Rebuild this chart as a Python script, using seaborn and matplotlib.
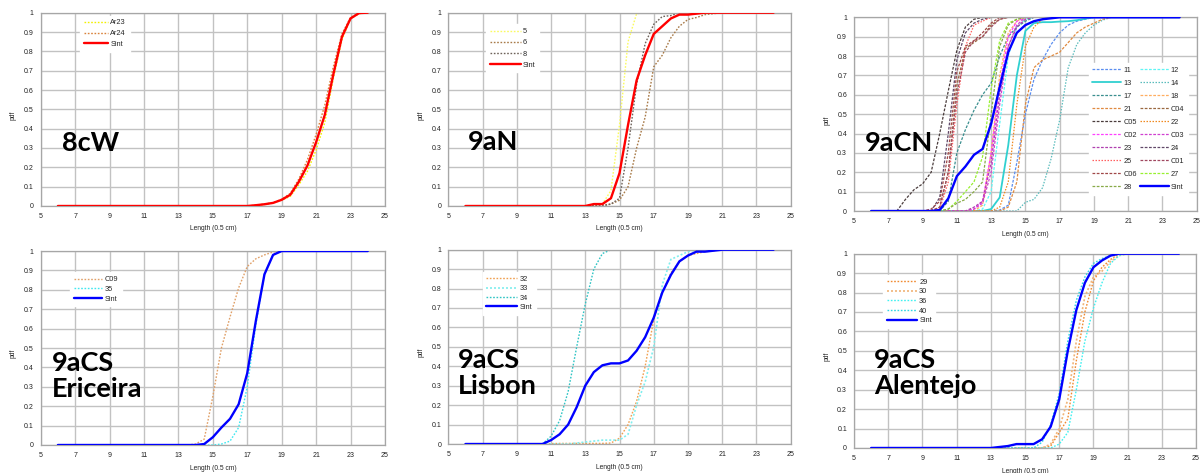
import numpy as np
import matplotlib
matplotlib.use("Agg")
import matplotlib.pyplot as plt
from matplotlib.ticker import FuncFormatter, MultipleLocator
import seaborn as sns

sns.set_style("white")
plt.rcParams["font.family"] = ["Liberation Sans", "DejaVu Sans"]

# Length classes (0.5 cm bins) on the x axis
LENGTHS = np.arange(6.0, 24.01, 0.5)

# Cumulative length distributions: (first length listed, values from there on).
# Classes below the first listed length sit at 0, classes after the last listed value at 1.
W8C = {
    "Ar23": (17.0, [0.0, 0.003, 0.008, 0.015, 0.03, 0.05, 0.11, 0.18, 0.29, 0.43, 0.66, 0.86, 0.97, 0.995, 1.0]),
    "Ar24": (17.0, [0.0, 0.004, 0.01, 0.017, 0.035, 0.065, 0.14, 0.24, 0.37, 0.52, 0.72, 0.89, 0.975, 1.0]),
    "Sint": (17.0, [0.0, 0.004, 0.009, 0.016, 0.032, 0.058, 0.126, 0.21, 0.33, 0.47, 0.68, 0.875, 0.97, 0.998, 1.0]),
}

N9A = {
    "5": (13.0, [0.0, 0.005, 0.01, 0.08, 0.42, 0.85, 0.995, 1.0]),
    "6": (13.0, [0.0, 0.003, 0.005, 0.01, 0.03, 0.1, 0.3, 0.46, 0.72, 0.78, 0.87, 0.93, 0.965, 0.975, 0.99, 0.995, 1.0]),
    "8": (13.0, [0.0, 0.0, 0.0, 0.01, 0.04, 0.3, 0.63, 0.84, 0.94, 0.98, 0.985, 1.0]),
    "Sint": (13.0, [0.0, 0.01, 0.01, 0.04, 0.17, 0.42, 0.65, 0.78, 0.89, 0.93, 0.97, 0.99, 0.99, 0.995, 1.0]),
}

CN9A = {
    "11": (13.5, [0.005, 0.03, 0.25, 0.5, 0.68, 0.78, 0.86, 0.92, 0.96, 0.98, 0.99, 1.0]),
    "12": (12.5, [0.01, 0.1, 0.45, 0.8, 0.95, 0.99, 1.0]),
    "13": (12.5, [0.0, 0.01, 0.07, 0.34, 0.7, 0.93, 0.97, 0.975, 0.975, 0.978, 0.98, 0.985, 0.993, 1.0]),
    "14": (14.5, [0.0, 0.045, 0.06, 0.12, 0.27, 0.47, 0.74, 0.86, 0.92, 0.96, 0.985, 1.0]),
    "17": (10.0, [0.0, 0.05, 0.3, 0.42, 0.52, 0.6, 0.66, 0.8, 0.9, 0.95, 0.98, 1.0]),
    "18": (12.0, [0.0, 0.03, 0.3, 0.7, 0.92, 0.98, 1.0]),
    "21": (13.5, [0.0, 0.02, 0.15, 0.55, 0.74, 0.78, 0.8, 0.82, 0.87, 0.92, 0.95, 0.97, 0.99, 1.0]),
    "C04": (9.5, [0.0, 0.02, 0.2, 0.65, 0.84, 0.87, 0.9, 0.96, 0.99, 1.0]),
    "C05": (7.5, [0.0, 0.06, 0.11, 0.14, 0.2, 0.4, 0.62, 0.83, 0.95, 0.99, 1.0]),
    "22": (13.0, [0.0, 0.02, 0.15, 0.55, 0.85, 0.95, 0.99, 1.0]),
    "C02": (12.0, [0.01, 0.05, 0.3, 0.65, 0.9, 0.98, 1.0]),
    "C03": (12.0, [0.01, 0.04, 0.2, 0.55, 0.85, 0.96, 1.0]),
    "23": (11.5, [0.0, 0.02, 0.05, 0.25, 0.6, 0.85, 0.95, 0.99, 1.0]),
    "24": (9.5, [0.0, 0.07, 0.4, 0.78, 0.92, 0.97, 0.99, 1.0]),
    "25": (10.0, [0.01, 0.15, 0.55, 0.85, 0.96, 0.98, 1.0]),
    "C01": (10.0, [0.02, 0.2, 0.6, 0.82, 0.88, 0.9, 0.95, 0.99, 1.0]),
    "C06": (9.5, [0.01, 0.05, 0.3, 0.72, 0.85, 0.88, 0.92, 0.97, 1.0]),
    "27": (10.5, [0.01, 0.05, 0.1, 0.15, 0.28, 0.63, 0.88, 0.97, 0.99, 1.0]),
    "28": (10.5, [0.01, 0.04, 0.06, 0.1, 0.15, 0.5, 0.85, 0.96, 0.99, 1.0]),
    "Sint": (9.5, [0.0, 0.005, 0.065, 0.18, 0.23, 0.29, 0.32, 0.45, 0.64, 0.82, 0.92, 0.96, 0.98, 0.99, 0.995, 1.0]),
}

CS_ERICEIRA = {
    "C09": (13.5, [0.0, 0.005, 0.03, 0.25, 0.5, 0.66, 0.81, 0.92, 0.96, 0.98, 0.995, 1.0]),
    "35": (15.0, [0.0, 0.005, 0.02, 0.09, 0.3, 0.62, 0.88, 0.98, 1.0]),
    "Sint": (14.0, [0.0, 0.005, 0.04, 0.09, 0.135, 0.21, 0.37, 0.64, 0.88, 0.98, 1.0]),
}

CS_LISBON = {
    "32": (10.5, [0.0, 0.002, 0.003, 0.003, 0.003, 0.003, 0.003, 0.003, 0.005, 0.03, 0.1, 0.22, 0.4,
                  0.64, 0.78, 0.88, 0.94, 0.97, 0.98, 0.99, 0.995, 1.0]),
    "33": (12.0, [0.0, 0.005, 0.01, 0.015, 0.02, 0.02, 0.02, 0.05, 0.2, 0.32, 0.5, 0.82, 0.95, 0.97, 0.99, 1.0]),
    "34": (10.5, [0.0, 0.04, 0.12, 0.27, 0.5, 0.72, 0.9, 0.98, 1.0]),
    "Sint": (10.5, [0.0, 0.02, 0.05, 0.1, 0.19, 0.3, 0.37, 0.405, 0.415, 0.415, 0.43, 0.48, 0.55,
                    0.65, 0.78, 0.87, 0.94, 0.97, 0.99, 0.99, 0.995, 1.0]),
}

CS_ALENTEJO = {
    "29": (16.0, [0.0, 0.01, 0.08, 0.15, 0.45, 0.7, 0.86, 0.93, 0.97, 1.0]),
    "30": (16.0, [0.0, 0.02, 0.1, 0.25, 0.55, 0.78, 0.88, 0.91, 0.96, 0.99, 1.0]),
    "36": (16.5, [0.0, 0.02, 0.08, 0.3, 0.55, 0.72, 0.85, 0.95, 0.99, 1.0]),
    "40": (15.5, [0.0, 0.03, 0.12, 0.28, 0.55, 0.76, 0.88, 0.95, 0.975, 0.99, 1.0]),
    "Sint": (13.0, [0.0, 0.005, 0.01, 0.02, 0.02, 0.02, 0.045, 0.11, 0.25, 0.5, 0.71, 0.85, 0.93, 0.965, 0.99, 1.0]),
}


def full_series(start, vals):
    """Expand a listed stretch to every length class (0 before, 1 after)."""
    i0 = int(round((start - LENGTHS[0]) / 0.5))
    out = [0.0] * i0 + list(vals)
    out += [1.0] * (len(LENGTHS) - len(out))
    return np.array(out[:len(LENGTHS)])


DOT = (0, (1.2, 1.2))
DASH = (0, (2.2, 1.2))

# (series name, colour, line style, width)
STYLES = {
    "8cW": {"Ar23": ("#f2f000", DOT, 1.0), "Ar24": ("#d9823b", DOT, 1.0), "Sint": ("#ff0000", "-", 1.7)},
    "9aN": {"5": ("#fafa60", DOT, 1.0), "6": ("#a87a48", DOT, 1.0), "8": ("#6e625a", DOT, 1.0),
            "Sint": ("#ff0000", "-", 1.7)},
    "9aCN": {
        "11": ("#5b8ef0", DASH, 0.9), "12": ("#5ff5f5", DASH, 0.9), "13": ("#30d0d0", "-", 1.3),
        "14": ("#5abcbc", DOT, 0.9), "17": ("#3a8f8f", DASH, 0.9), "18": ("#ffae60", DASH, 0.9),
        "21": ("#e08a40", DASH, 0.9), "C04": ("#9a6840", DASH, 0.9), "C05": ("#4a3c3c", DASH, 0.9),
        "22": ("#f08a20", DOT, 0.9), "C02": ("#ff40ff", DASH, 0.9), "C03": ("#d040d0", DASH, 0.9),
        "23": ("#b040b0", DASH, 0.9), "24": ("#604868", DASH, 0.9), "25": ("#ff6060", DOT, 0.9),
        "C01": ("#a04860", DASH, 0.9), "C06": ("#a04848", DASH, 0.9), "27": ("#98f030", DASH, 0.9),
        "28": ("#88aa48", DASH, 0.9), "Sint": ("#0000ff", "-", 1.7),
    },
    "9aCS\nEriceira": {"C09": ("#e0a068", DOT, 1.0), "35": ("#40e8f0", DOT, 1.0), "Sint": ("#0000ff", "-", 1.7)},
    "9aCS\nLisbon": {"32": ("#f0a050", DOT, 1.0), "33": ("#80eeee", DOT, 1.2), "34": ("#30c4c4", DOT, 1.0),
                     "Sint": ("#0000ff", "-", 1.7)},
    "9aCS\nAlentejo": {"29": ("#f08a30", DOT, 1.0), "30": ("#f0b478", DOT, 1.2), "36": ("#40f0f0", DOT, 1.0),
                       "40": ("#30d4e4", DOT, 1.0), "Sint": ("#0000ff", "-", 1.7)},
}

# panel: data, axes rect, big-label position, legend anchor, legend layout
PANELS = [
    ("8cW", W8C, [0.0339, 0.5645, 0.2869, 0.4087], (0.062, 0.285), (0.115, 0.985), 1, 3.3, 0.5),
    ("9aN", N9A, [0.3736, 0.5645, 0.2853, 0.4087], (0.057, 0.29), (0.11, 0.94), 1, 4.2, 0.55),
    ("9aCN", CN9A, [0.7117, 0.5539, 0.2856, 0.4095], (0.032, 0.31), (0.685, 0.765), 2, 3.9, 0.8),
    ("9aCS\nEriceira", CS_ERICEIRA, [0.0339, 0.0592, 0.2869, 0.4101], (0.032, 0.25), (0.085, 0.89), 1, 3.9, 0.35),
    ("9aCS\nLisbon", CS_LISBON, [0.3736, 0.0613, 0.2853, 0.4108], (0.029, 0.255), (0.10, 0.885), 1, 4.2, 0.3),
    ("9aCS\nAlentejo", CS_ALENTEJO, [0.7117, 0.0529, 0.2850, 0.4108], (0.058, 0.28), (0.085, 0.89), 1, 4.1, 0.33),
]

ORDER_9ACN = ["11", "13", "17", "21", "C05", "C02", "23", "25", "C06", "28",
              "12", "14", "18", "C04", "22", "C03", "24", "C01", "27", "Sint"]

GRID = "#c2c2c2"
FRAME = "#a6a6a6"

fig = plt.figure(figsize=(12, 4.73), dpi=100)

for name, data, rect, txt_pos, leg_anchor, ncol, hlen, lspace in PANELS:
    ax = fig.add_axes(rect)
    handles = {}
    for key, (start, vals) in data.items():
        color, ls, lw = STYLES[name][key]
        sns.lineplot(x=LENGTHS, y=full_series(start, vals), ax=ax, color=color,
                     linestyle=ls, linewidth=lw, label=key, legend=False,
                     zorder=3 if key == "Sint" else 2)
        handles[key] = ax.get_lines()[-1]

    ax.set_xlim(5, 25)
    ax.set_ylim(0, 1)
    ax.xaxis.set_major_locator(MultipleLocator(2, offset=1))
    ax.yaxis.set_major_locator(MultipleLocator(0.1))
    ax.yaxis.set_major_formatter(FuncFormatter(lambda v, p: f"{v:g}"))
    ax.grid(True, color=GRID, linewidth=1.0)
    ax.set_axisbelow(True)
    for sp in ax.spines.values():
        sp.set_color(FRAME)
        sp.set_linewidth(0.9)
    ax.tick_params(axis="both", labelsize=5, colors="#222222", length=3, width=0.8,
                   direction="out", pad=2)
    ax.tick_params(axis="both", color=FRAME)

    ax.set_xlabel("Length (0.5 cm)", fontsize=4.8, color="#222222")
    ax.xaxis.set_label_coords(0.5, -0.119)
    ax.xaxis.label.set_verticalalignment("center")
    ax.set_ylabel("pdf", fontsize=4.8, color="#222222")
    ax.yaxis.set_label_coords(-0.08, 0.47)
    ax.yaxis.label.set_verticalalignment("center")

    ax.text(txt_pos[0], txt_pos[1], name, transform=ax.transAxes, fontsize=19.5,
            fontweight="bold", family=["Lato", "DejaVu Sans"], color="#000000",
            ha="left", va="baseline", linespacing=1.1, zorder=5)

    order = ORDER_9ACN if ncol == 2 else list(data.keys())
    leg = ax.legend([handles[k] for k in order], order, loc="upper left",
                    bbox_to_anchor=leg_anchor, ncol=ncol, fontsize=5.3,
                    handlelength=hlen, handletextpad=0.3, labelspacing=lspace,
                    columnspacing=0.4, borderpad=0.5, borderaxespad=0,
                    frameon=True, fancybox=False, framealpha=1.0)
    leg.get_frame().set_facecolor("white")
    leg.get_frame().set_edgecolor("white")
    leg.set_zorder(6)

fig.savefig("out.png", dpi=100, facecolor="white")
